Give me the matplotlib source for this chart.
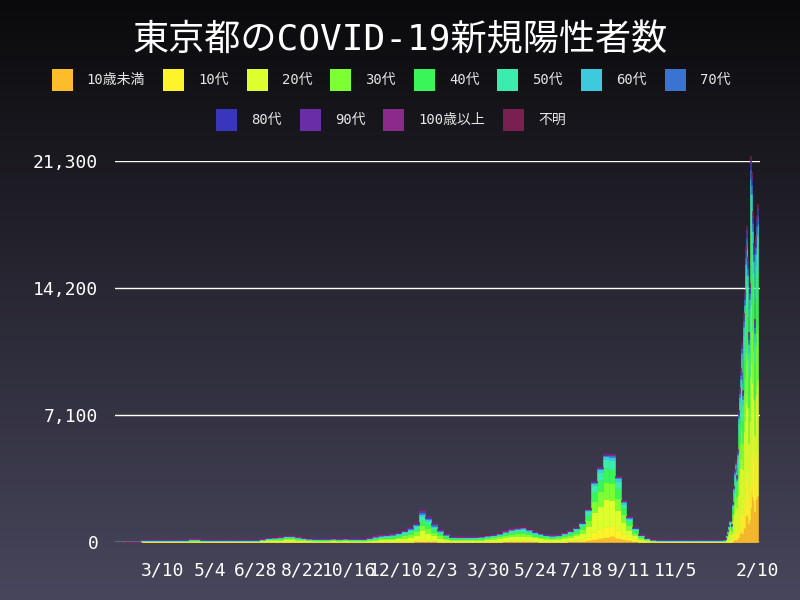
import numpy as np
import pandas as pd
import matplotlib
matplotlib.use("Agg")
import matplotlib.pyplot as plt
import matplotlib.dates as mdates
from matplotlib.colors import LinearSegmentedColormap
from matplotlib.patches import Rectangle

# === 年代区分と色 ===
groups = ["10歳未満", "10代", "20代", "30代", "40代", "50代",
          "60代", "70代", "80代", "90代", "100歳以上", "不明"]
colors = ["#fbbd2a", "#fff42a", "#dcff2d", "#7cff33", "#3af55a", "#3cecac",
          "#3ccadc", "#3a74d0", "#3a35bd", "#6a2da8", "#8c2a8c", "#7a2050"]

# === 週ごとの1日あたり陽性者数 (2020-01-23 から 7日刻み) ===
weekly_start = "2020-01-23"
w_u10 = [0, 0, 0, 0, 0, 0, 0, 0, 0, 0.5,
         1, 2, 2, 1, 1, 0.5, 0.2, 0.1, 0.3, 0.3,
         0.4, 0.5, 0.8, 1.5, 3, 4, 5, 7, 7, 6,
         5, 4, 4, 5, 5, 5, 5, 5, 5, 4,
         5, 6, 9, 11, 12, 13, 16, 20, 24, 30,
         50, 42, 32, 22, 15, 10, 9, 10, 12, 13,
         15, 18, 20, 24, 30, 36, 40, 42, 36, 30,
         25, 21, 19, 20, 26, 33, 44, 60, 100, 190,
         240, 300, 315, 250, 165, 100, 55, 27, 14, 8,
         4, 2, 1.3, 1.2, 1.2, 1.1, 0.9, 1, 1.1, 1.5, 2]
w_t10 = [0, 0, 0, 0, 0, 0, 0, 0, 0.3, 1,
         2, 3, 3, 2, 2, 0.5, 0.3, 0.2, 0.5, 0.7,
         1, 1.5, 2.5, 5, 10, 12, 13, 18, 17, 14,
         11, 9, 8, 9, 9, 9, 9, 9, 9, 8,
         10, 13, 20, 24, 25, 27, 33, 40, 50, 65,
         105, 86, 63, 43, 28, 19, 18, 18, 20, 22,
         24, 30, 34, 40, 50, 60, 65, 68, 58, 48,
         40, 34, 31, 33, 42, 55, 74, 105, 185, 360,
         460, 560, 570, 440, 285, 170, 95, 45, 24, 13,
         6, 3.5, 2.2, 2, 2, 1.8, 1.5, 1.7, 1.8, 2.5, 4]
w_t20 = [0, 0, 0, 0.2, 0.2, 0.2, 0.3, 0.5, 3, 12,
         23, 30, 28, 19, 15, 4, 2, 2, 5, 8,
         11, 16, 26, 55, 100, 105, 105, 135, 120, 95,
         75, 58, 50, 52, 52, 55, 52, 55, 52, 48,
         52, 65, 95, 110, 112, 122, 150, 185, 225, 300,
         490, 395, 280, 185, 118, 80, 75, 75, 80, 85,
         95, 115, 128, 155, 190, 225, 240, 250, 215, 177,
         152, 130, 120, 128, 162, 200, 260, 360, 610, 1100,
         1330, 1540, 1480, 1080, 660, 400, 230, 115, 62, 33,
         17, 9.5, 6, 5, 5, 4.5, 3.8, 4.3, 4.5, 6.5, 12]
w_t30 = [0, 0, 0, 0.2, 0.2, 0.3, 0.4, 0.5, 2, 9,
         19, 27, 26, 18, 14, 4, 2, 1.5, 3, 4,
         5, 7, 11, 22, 42, 50, 55, 75, 70, 58,
         46, 38, 33, 35, 35, 37, 35, 37, 35, 33,
         36, 44, 64, 75, 78, 84, 100, 122, 148, 195,
         320, 260, 185, 125, 80, 55, 50, 50, 52, 54,
         58, 70, 76, 90, 112, 134, 145, 152, 130, 106,
         90, 76, 69, 73, 92, 115, 150, 210, 360, 670,
         830, 970, 950, 700, 435, 265, 150, 75, 42, 22,
         11, 6.5, 4, 3.6, 3.6, 3.2, 2.7, 3, 3.2, 4.5, 7]
w_t40 = [0.3, 0.2, 0, 0.3, 0.3, 0.3, 0.5, 0.6, 2, 8,
         17, 25, 25, 17, 13, 4, 1.5, 1, 2, 3,
         3, 4, 6, 11, 22, 28, 32, 45, 45, 38,
         32, 27, 25, 26, 26, 28, 26, 28, 26, 25,
         28, 36, 52, 62, 64, 70, 85, 103, 125, 160,
         265, 215, 155, 105, 70, 48, 44, 43, 45, 46,
         48, 57, 63, 75, 94, 112, 122, 128, 110, 90,
         76, 63, 57, 60, 75, 93, 118, 160, 270, 500,
         630, 750, 750, 565, 360, 220, 128, 65, 36, 19,
         9, 5.5, 3.3, 3, 3, 2.7, 2.2, 2.5, 2.7, 3.5, 5.5]
w_t50 = [0, 0, 0, 0.4, 0.4, 0.4, 0.6, 0.8, 2.5, 8,
         15, 22, 22, 15, 12, 4, 1.5, 1, 1.5, 2,
         2, 2.5, 4, 7, 14, 17, 20, 28, 28, 24,
         20, 17, 15, 16, 16, 17, 16, 17, 16, 16,
         18, 24, 37, 44, 48, 53, 65, 80, 96, 125,
         205, 170, 125, 85, 56, 38, 35, 34, 35, 36,
         38, 44, 50, 60, 75, 90, 98, 103, 88, 72,
         61, 51, 46, 48, 58, 70, 88, 118, 195, 360,
         440, 515, 515, 385, 245, 150, 88, 45, 25, 14,
         7, 4, 2.5, 2.3, 2.3, 2, 1.7, 1.9, 2, 2.7, 4]
w_t60 = [0, 0, 0, 0.4, 0.4, 0.4, 0.5, 0.6, 2, 6,
         10, 15, 15, 11, 9, 3, 1, 0.5, 0.7, 0.8,
         1, 1.3, 2, 3.5, 7, 9, 11, 16, 17, 14,
         12, 10, 9, 10, 10, 11, 10, 11, 10, 10,
         11, 15, 23, 27, 30, 33, 40, 48, 57, 73,
         120, 100, 75, 52, 35, 24, 21, 20, 18, 18,
         18, 20, 22, 26, 32, 38, 42, 45, 39, 32,
         27, 22, 19, 19, 23, 28, 35, 45, 72, 125,
         150, 180, 180, 135, 88, 55, 32, 17, 10, 6,
         3, 2, 1.2, 1.2, 1.2, 1.1, 0.9, 1, 1.1, 1.5, 2]
w_t70 = [0, 0, 0, 0.3, 0.3, 0.2, 0.4, 0.5, 1.5, 4,
         8, 12, 13, 10, 8, 2, 0.7, 0.3, 0.5, 0.5,
         0.7, 1, 1.2, 2, 5, 6, 8, 11, 12, 10,
         9, 8, 7, 8, 8, 9, 8, 9, 8, 8,
         10, 13, 19, 23, 25, 28, 34, 40, 47, 60,
         100, 85, 65, 45, 30, 20, 18, 16, 14, 13,
         12, 13, 14, 16, 19, 23, 25, 27, 23, 18,
         15, 12, 10, 10, 12, 14, 17, 22, 32, 50,
         58, 72, 76, 58, 38, 24, 14, 7, 4, 3,
         1.5, 1, 0.8, 0.8, 0.8, 0.8, 0.6, 0.8, 0.8, 1, 1.5]
w_t80 = [0, 0, 0, 0.2, 0.2, 0.2, 0.3, 0.4, 1.2, 4,
         6, 9, 10, 8, 7, 2, 0.5, 0.3, 0.3, 0.4,
         0.5, 0.6, 0.8, 1.5, 4, 4, 6, 8, 8, 7,
         6, 6, 6, 6, 6, 6, 6, 6, 6, 5,
         7, 9, 14, 16, 18, 20, 25, 29, 33, 43,
         73, 62, 50, 35, 24, 16, 13, 10, 9, 8,
         7, 7, 7, 8, 10, 12, 13, 14, 12, 9,
         7, 6, 5, 5, 5, 6, 7, 10, 12, 20,
         22, 28, 30, 22, 13, 9, 5, 3, 2, 1,
         1, 0.6, 0.4, 0.5, 0.5, 0.5, 0.4, 0.5, 0.5, 0.6, 1]
w_t90 = [0, 0, 0, 0, 0, 0, 0, 0.1, 0.5, 1.5,
         2, 3, 4, 3, 3, 0.5, 0.2, 0.1, 0.1, 0.1,
         0.2, 0.3, 0.3, 0.5, 1, 2, 2, 3, 3, 2,
         2, 2, 2, 2, 2, 2, 2, 2, 2, 2,
         2, 3, 5, 6, 6, 7, 9, 10, 11, 14,
         23, 18, 15, 10, 7, 5, 4, 3, 3, 3,
         3, 3, 3, 3, 4, 5, 5, 5, 4, 3,
         3, 2, 2, 2, 2, 2, 2, 3, 4, 7,
         7, 9, 10, 7, 4, 3, 1, 1, 1, 0.5,
         0.3, 0.2, 0.1, 0.2, 0.2, 0.1, 0.1, 0.1, 0.1, 0.2, 0.3]
w_t100 = [0, 0, 0, 0, 0, 0, 0, 0, 0, 0,
          0, 0, 0, 0, 0, 0, 0, 0, 0, 0,
          0, 0, 0, 0, 0, 0, 0, 0, 0, 0,
          0, 0, 0, 0, 0, 0, 0, 0, 0, 0,
          0, 0, 0, 0, 0, 0, 0, 0, 0, 0,
          1, 0, 0, 0, 0, 0, 0, 0, 0, 0,
          0, 0, 0, 0, 0, 0, 0, 0, 0, 0,
          0, 0, 0, 0, 0, 0, 0, 0, 0, 0,
          0, 0, 0, 0, 0, 0, 0, 0, 0, 0,
          0, 0, 0, 0, 0, 0, 0, 0, 0, 0, 0]
w_unk = [0, 0, 0, 0, 0, 0, 0, 0, 0, 1,
         2, 2, 2, 1, 1, 0.5, 0.1, 0, 0.1, 0.2,
         0.2, 0.3, 0.4, 1, 2, 3, 3, 4, 3, 2,
         2, 1, 1, 1, 1, 1, 1, 1, 1, 1,
         1, 2, 2, 2, 2, 3, 3, 3, 4, 5,
         5, 5, 5, 3, 2, 1, 1, 1, 2, 2,
         2, 3, 3, 3, 4, 5, 5, 6, 5, 5,
         4, 3, 2, 2, 3, 4, 5, 7, 10, 18,
         20, 28, 26, 15, 7, 4, 2, 0, 0, 0.5,
         0.2, 0.2, 0.2, 0.2, 0.2, 0.2, 0.2, 0.2, 0.2, 0.5, 0.7]

# === 日別 (2021-12-30 から 2022-02-10) ===
daily_start = "2021-12-30"
d_u10 = [1, 2, 2, 2, 2, 3, 8, 13, 18, 24,
         24, 17, 19, 44, 125, 162, 182, 167, 148, 207,
         295, 518, 582, 674, 568, 510, 769, 845, 1488, 1587,
         1569, 1431, 1058, 1300, 1942, 2895, 2587, 2341, 2338, 1741,
         2396, 2560, 2645]
d_t10 = [4, 5, 5, 5, 6, 9, 23, 45, 65, 86,
         86, 61, 67, 154, 281, 365, 410, 375, 334, 467,
         664, 1037, 1164, 1347, 1136, 1020, 1538, 1690, 2150, 2292,
         2266, 2066, 1528, 1878, 2805, 2688, 2402, 2174, 2171, 1617,
         2225, 2377, 2456]
d_t20 = [29, 35, 35, 38, 46, 68, 176, 288, 415, 551,
         551, 392, 433, 989, 1187, 1539, 1733, 1585, 1409, 1970,
         2803, 2591, 2910, 3368, 2840, 2551, 3844, 4226, 4135, 4408,
         4358, 3974, 2938, 3611, 5394, 4343, 3880, 3511, 3507, 2611,
         3594, 3840, 3967]
d_t30 = [12, 14, 14, 15, 19, 27, 70, 109, 157, 208,
         208, 148, 164, 374, 531, 689, 775, 709, 631, 881,
         1254, 1468, 1649, 1909, 1610, 1446, 2178, 2395, 2811, 2997,
         2964, 2702, 1998, 2456, 3668, 3309, 2956, 2675, 2672, 1990,
         2738, 2926, 3023]
d_t40 = [7, 9, 9, 9, 11, 17, 43, 77, 111, 147,
         147, 105, 115, 264, 406, 527, 593, 542, 482, 674,
         959, 1296, 1455, 1684, 1420, 1275, 1922, 2113, 2646, 2821,
         2789, 2543, 1880, 2311, 3452, 3309, 2956, 2675, 2672, 1990,
         2738, 2926, 3023]
d_t50 = [5, 6, 6, 7, 8, 12, 31, 51, 74, 98,
         98, 70, 77, 176, 281, 365, 410, 375, 334, 467,
         664, 864, 970, 1123, 947, 850, 1281, 1409, 1654, 1763,
         1743, 1590, 1175, 1445, 2158, 2068, 1848, 1672, 1670, 1244,
         1711, 1829, 1889]
d_t60 = [3, 3, 3, 3, 4, 6, 16, 26, 37, 49,
         49, 35, 38, 88, 125, 162, 182, 167, 148, 207,
         295, 346, 388, 449, 379, 340, 513, 563, 662, 705,
         697, 636, 470, 578, 863, 827, 739, 669, 668, 497,
         685, 731, 756]
d_t70 = [1, 2, 2, 2, 2, 3, 8, 13, 18, 24,
         24, 17, 19, 44, 78, 101, 114, 104, 93, 130,
         184, 216, 242, 281, 237, 213, 320, 352, 413, 441,
         436, 397, 294, 361, 539, 517, 462, 418, 417, 311,
         428, 457, 472]
d_t80 = [1, 1, 1, 1, 2, 2, 6, 6, 9, 12,
         12, 9, 10, 22, 47, 61, 68, 63, 56, 78,
         111, 130, 145, 168, 142, 128, 192, 211, 265, 282,
         279, 254, 188, 231, 345, 352, 314, 284, 284, 211,
         291, 311, 321]
d_t90 = [0, 0, 1, 0, 1, 1, 2, 3, 5, 6,
         6, 4, 5, 11, 16, 20, 23, 21, 19, 26,
         37, 43, 48, 56, 47, 43, 64, 70, 99, 106,
         105, 95, 71, 87, 129, 124, 111, 100, 100, 75,
         103, 110, 113]
d_t100 = [0, 0, 0, 0, 0, 0, 0, 0, 0, 0,
          0, 0, 0, 0, 0, 1, 0, 0, 0, 1,
          1, 1, 0, 1, 1, 0, 1, 2, 1, 2,
          2, 1, 1, 1, 2, 2, 1, 2, 2, 1,
          2, 2, 2]
d_unk = [1, 1, 1, 2, 2, 3, 7, 10, 13, 19,
         18, 13, 15, 32, 47, 60, 71, 64, 55, 78,
         111, 129, 146, 168, 142, 127, 192, 212, 215, 229,
         227, 207, 151, 187, 281, 247, 221, 201, 199, 148,
         204, 220, 226]

weekly = [w_u10, w_t10, w_t20, w_t30, w_t40, w_t50,
          w_t60, w_t70, w_t80, w_t90, w_t100, w_unk]
daily = [d_u10, d_t10, d_t20, d_t30, d_t40, d_t50,
         d_t60, d_t70, d_t80, d_t90, d_t100, d_unk]

# === 軸目盛 ===
y_ticks = [0, 7100, 14200, 21300]
x_tick_dates = ["2020-03-10", "2020-05-04", "2020-06-28", "2020-08-22",
                "2020-10-16", "2020-12-10", "2021-02-03", "2021-03-30",
                "2021-05-24", "2021-07-18", "2021-09-11", "2021-11-05",
                "2022-02-10"]
title = "東京都のCOVID-19新規陽性者数"

# === スタイル ===
FONT = ["DejaVu Sans Mono", "Noto Sans CJK JP"]
plt.rcParams["font.family"] = FONT
report_start = "2020-02-13"   # この日以降は 0 でも最小の高さで描かれる
min_len = 15

fig = plt.figure(figsize=(8, 6), dpi=100)

# 背景グラデーション
bg = fig.add_axes([0, 0, 1, 1], zorder=-10)
grad = np.linspace(0, 1, 256).reshape(-1, 1)
cmap = LinearSegmentedColormap.from_list("bg", ["#0a0a0c", "#48465c"])
bg.imshow(grad, aspect="auto", cmap=cmap, extent=[0, 1, 0, 1], origin="upper")
bg.axis("off")

ax = fig.add_axes([115 / 800, 58 / 600, 645 / 800, 381 / 600])
ax.patch.set_alpha(0)

x_week = mdates.date2num(pd.date_range(weekly_start, periods=len(w_u10), freq="7D"))
x_day = mdates.date2num(pd.date_range(daily_start, periods=len(d_u10), freq="D"))
x = np.concatenate([x_week, x_day])
widths = np.concatenate([np.full(len(x_week), 7.0), np.full(len(x_day), 1.0)])
shown = x >= mdates.datestr2num(report_start)

bottom = np.zeros(len(x))
for name, c, wv, dv in zip(groups, colors, weekly, daily):
    v = np.concatenate([np.array(wv, float), np.array(dv, float)])
    h = np.where(shown | (v > 0), np.maximum(v, min_len), 0)
    ax.bar(x, h, width=widths, bottom=bottom, align="edge", color=c,
           edgecolor=c, linewidth=0.4, clip_on=False, zorder=2)
    bottom += h

x0 = mdates.datestr2num("2020-03-10") - 56.2
ax.set_xlim(x0, x0 + 762)
ax.set_ylim(0, 21300)

ax.set_yticks(y_ticks)
ax.set_yticklabels([f"{v:,}" for v in y_ticks])
xt = [pd.Timestamp(d) for d in x_tick_dates]
ax.set_xticks(mdates.date2num(xt) + 0.5)
ax.set_xticklabels([f"{d.month}/{d.day}" for d in xt])
ax.tick_params(length=0, colors="white", labelsize=13)
ax.tick_params(axis="y", pad=12)
ax.tick_params(axis="x", pad=14)
ax.yaxis.grid(True, color="white", linewidth=1)
ax.set_axisbelow(True)
for s in ax.spines.values():
    s.set_visible(False)

fig.text(0.5, 1 - 40 / 600, title, ha="center", va="center",
         fontsize=26, color="white")

# === 凡例 (2段, 中央揃え) ===
renderer = fig.canvas.get_renderer()
box = 21
rows = [(range(0, 8), 80), (range(8, 12), 120)]
for idx, yc in rows:
    texts = [fig.text(0, 0, groups[i], fontsize=10, color="#e6e6e6", va="center")
             for i in idx]
    tw = [t.get_window_extent(renderer).width for t in texts]
    items = [box + 14 + w + 18 for w in tw]
    xp = 400 - sum(items) / 2
    for i, t, iw in zip(idx, texts, items):
        fig.patches.append(Rectangle((xp / 800, 1 - (yc + box / 2) / 600),
                                     box / 800, box / 600,
                                     transform=fig.transFigure,
                                     color=colors[i], linewidth=0))
        t.set_position(((xp + box + 14) / 800, 1 - yc / 600))
        xp += iw

fig.savefig("out.png", dpi=100)
